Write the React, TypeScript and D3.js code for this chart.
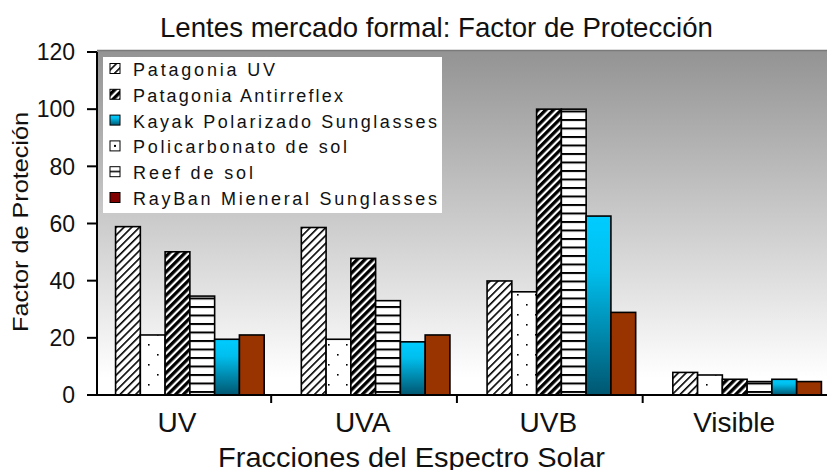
import * as d3 from "d3";

const categories = ["UV", "UVA", "UVB", "Visible"];
const seriesNames = [
  "Patagonia UV",
  "Policarbonato de sol",
  "Patagonia Antirreflex",
  "Reef de sol",
  "Kayak Polarizado Sunglasses",
  "RayBan Mieneral Sunglasses",
];
const patagoniaUV = [58.9, 58.6, 39.9, 7.9];
const policarbonato = [21, 19.5, 36.1, 7];
const patagoniaAnti = [50.1, 47.8, 100, 5.5];
const reefDeSol = [34.6, 33, 100, 4.7];
const kayak = [19.5, 18.6, 62.6, 5.5];
const rayban = [21, 21, 28.9, 4.7];
const yTicks = [0, 20, 40, 60, 80, 100, 120];
const legendOrder = [
  "Patagonia UV",
  "Patagonia Antirreflex",
  "Kayak Polarizado Sunglasses",
  "Policarbonato de sol",
  "Reef de sol",
  "RayBan Mieneral Sunglasses",
];

const seriesValues = [patagoniaUV, policarbonato, patagoniaAnti, reefDeSol, kayak, rayban];

// fill per series (bars) and for the legend swatch
const barFill: Record<string, string> = {
  "Patagonia UV": "url(#hatchThin)",
  "Policarbonato de sol": "url(#dots)",
  "Patagonia Antirreflex": "url(#hatchThick)",
  "Reef de sol": "url(#hLines)",
  "Kayak Polarizado Sunglasses": "url(#kayakGrad)",
  "RayBan Mieneral Sunglasses": "#993300",
};
const swatchFill: Record<string, string> = {
  ...barFill,
  "Policarbonato de sol": "url(#dotSwatch)",
  "Reef de sol": "url(#lineSwatch)",
  "RayBan Mieneral Sunglasses": "#800000",
};
const legendWidth: Record<string, number> = {
  "Patagonia UV": 142,
  "Patagonia Antirreflex": 210,
  "Kayak Polarizado Sunglasses": 304,
  "Policarbonato de sol": 214,
  "Reef de sol": 120,
  "RayBan Mieneral Sunglasses": 304,
};

const FONT = "'Liberation Sans', Arial, sans-serif";

export default function App() {
  const W = 827;
  const H = 470;
  const left = 97;
  const bottom = 395;
  const top = 52;

  const x = d3.scaleBand<string>().domain(categories).range([left, 840]).paddingInner(0.2).paddingOuter(0.1);
  const xs = d3.scaleBand<string>().domain(seriesNames).range([0, x.bandwidth()]);
  const y = d3.scaleLinear().domain([0, 120]).range([bottom, top]);

  return (
    <div style={{ position: "absolute", left: 0, top: 0 }}>
      <svg width={W} height={H} style={{ display: "block", fontFamily: FONT }}>
        <defs>
          <linearGradient id="plotBg" x1="0" y1="0" x2="0" y2="1">
            <stop offset="0%" stopColor="#939393" />
            <stop offset="95%" stopColor="#ffffff" />
          </linearGradient>
          <linearGradient id="kayakGrad" x1="0" y1="0" x2="0" y2="1">
            <stop offset="0%" stopColor="#00ccff" />
            <stop offset="30%" stopColor="#00bfee" />
            <stop offset="100%" stopColor="#005670" />
          </linearGradient>
          <pattern id="hatchThin" patternUnits="userSpaceOnUse" width="5.5" height="5.5" patternTransform="rotate(45)">
            <rect width="5.5" height="5.5" fill="#fff" />
            <rect width="1.6" height="5.5" fill="#000" />
          </pattern>
          <pattern id="hatchThick" patternUnits="userSpaceOnUse" width="5.5" height="5.5" patternTransform="rotate(45)">
            <rect width="5.5" height="5.5" fill="#fff" />
            <rect width="3.3" height="5.5" fill="#000" />
          </pattern>
          <pattern id="dots" patternUnits="userSpaceOnUse" width="18" height="20">
            <rect width="18" height="20" fill="#fff" />
            <rect x="4" y="4" width="1.6" height="1.6" fill="#000" />
            <rect x="13" y="14" width="1.6" height="1.6" fill="#000" />
          </pattern>
          <pattern id="hLines" patternUnits="userSpaceOnUse" width="10" height="8.5">
            <rect width="10" height="8.5" fill="#fff" />
            <rect width="10" height="2" fill="#000" />
          </pattern>
          <pattern id="dotSwatch" patternUnits="objectBoundingBox" width="1" height="1">
            <rect width="10" height="10" fill="#fff" />
            <rect x="4" y="4" width="2" height="2" fill="#000" />
          </pattern>
          <pattern id="lineSwatch" patternUnits="objectBoundingBox" width="1" height="1">
            <rect width="10" height="10" fill="#fff" />
            <rect x="0" y="4" width="10" height="1.5" fill="#000" />
          </pattern>
        </defs>

        <rect width={W} height={H} fill="#fff" />

        {/* plot area */}
        <rect x={left} y={top - 2} width={W - left} height={bottom - top + 2} fill="url(#plotBg)" />
        <line x1={left} x2={W} y1={top - 1.5} y2={top - 1.5} stroke="#7a7a7a" strokeWidth={1.5} />

        {/* title */}
        <text x={436.5} y={37} textAnchor="middle" fontSize={28} fill="#111" textLength={553} lengthAdjust="spacingAndGlyphs">
          Lentes mercado formal: Factor de Protección
        </text>

        {/* bars */}
        {seriesNames.map((name, si) => (
          <g key={name}>
            {categories.map((c, ci) => {
              const v = seriesValues[si][ci];
              return (
                <rect
                  key={c}
                  x={x(c)! + xs(name)!}
                  y={y(v)}
                  width={xs.bandwidth()}
                  height={y(0) - y(v)}
                  fill={barFill[name]}
                  stroke="#000"
                  strokeWidth={1.6}
                />
              );
            })}
          </g>
        ))}

        {/* y axis */}
        <line x1={left} x2={left} y1={top} y2={bottom} stroke="#000" strokeWidth={2} />
        {yTicks.map((t) => (
          <g key={t}>
            <line x1={left - 10} x2={left} y1={y(t)} y2={y(t)} stroke="#000" strokeWidth={2} />
            <text x={75} y={y(t)} dy="0.36em" textAnchor="end" fontSize={23} fill="#111">
              {t}
            </text>
          </g>
        ))}

        {/* x axis */}
        <line x1={left - 10} x2={W} y1={bottom} y2={bottom} stroke="#000" strokeWidth={2} />
        {categories.slice(0, 3).map((c) => {
          const tx = x(c)! + x.bandwidth() + 7;
          return <line key={c} x1={tx} x2={tx} y1={bottom} y2={bottom + 8} stroke="#000" strokeWidth={2} />;
        })}
        {categories.map((c) => (
          <text key={c} x={x(c)! + x.bandwidth() / 2 - 13} y={432} textAnchor="middle" fontSize={28} fill="#111">
            {c}
          </text>
        ))}

        <text x={411.5} y={467} textAnchor="middle" fontSize={28} fill="#111" textLength={387} lengthAdjust="spacingAndGlyphs">
          Fracciones del Espectro Solar
        </text>
        <text
          transform="translate(28,222) rotate(-90)"
          textAnchor="middle"
          fontSize={22}
          fill="#111"
          textLength={220}
          lengthAdjust="spacingAndGlyphs"
        >
          Factor de Proteción
        </text>

        {/* legend */}
        <rect x={103} y={57} width={339} height={156} fill="#fff" />
        {legendOrder.map((name, i) => {
          const by = 76 + i * 25.8;
          return (
            <g key={name}>
              <rect x={110} y={by - 12.5} width={10} height={10} fill={swatchFill[name]} stroke="#000" strokeWidth={1} />
              <text x={133} y={by} fontSize={18} fill="#111" textLength={legendWidth[name]} lengthAdjust="spacing">
                {name}
              </text>
            </g>
          );
        })}
      </svg>
    </div>
  );
}
